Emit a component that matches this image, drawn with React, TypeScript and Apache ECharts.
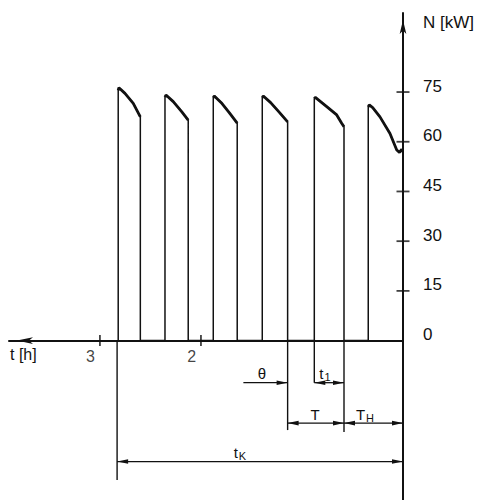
import React, { useEffect, useRef } from "react";
import * as echarts from "echarts";

// Axis ticks (time in hours, running leftwards; power in kW)
const hourTicks = [2, 3];
const powerTicks = [0, 15, 30, 45, 60, 75];
const powerTickMarks = [15, 30, 45, 60, 75];

// Power pulses: top contour of each pulse, [hours before end, kW]
const pulse1 = [[2.819, 75.5], [2.812, 76.3], [2.752, 74.6], [2.67, 71.6], [2.6, 67.5]];
const pulse2 = [[2.356, 73.5], [2.346, 74.1], [2.274, 72.1], [2.191, 69.1], [2.126, 66.5]];
const pulse3 = [[1.878, 73.3], [1.868, 73.8], [1.799, 71.8], [1.72, 68.8], [1.641, 65.6]];
const pulse4 = [[1.393, 73.3], [1.383, 73.8], [1.31, 71.8], [1.228, 69.0], [1.142, 66.0]];
const pulse5 = [[0.878, 73.0], [0.868, 73.4], [0.755, 70.6], [0.656, 68.1], [0.607, 65.6], [0.584, 64.5]];
const pulse6 = [[0.344, 70.5], [0.334, 71.1], [0.3, 70.3], [0.228, 67.5], [0.129, 62.5], [0.062, 57.5], [0.035, 56.8], [0.013, 57.7], [0, 57.0]];
const pulses = [pulse1, pulse2, pulse3, pulse4, pulse5, pulse6];

// Dimension lines (hours / kW levels below the axis)
const dimTexts = ["θ", "{a|t}{s|1}", "T", "{a|T}{s|H}", "{a|t}{s|K}"];
const dimFrom = [1.58, 0.878, 1.142, 0.584, 2.83];
const dimTo = [1.142, 0.584, 0.584, 0, 0];
const dimLevel = [-12.7, -12.7, -24.9, -24.9, -36.5];
const dimLabelAt = [1.396, 0.772, 0.871, 0.376, 1.614];
const dimBothEnds = [false, true, true, true, true];

// Extension lines below the time axis
const extensionAt = [2.83, 1.142, 0.878, 0.584];
const extensionEnd = [-42.1, -27.0, -12.7, -27.6];

const INK = "#111";
const FONT = "'Liberation Sans', Arial, sans-serif";

export default function App() {
  const ref = useRef<HTMLDivElement>(null);

  useEffect(() => {
    if (!ref.current) return;
    const chart = echarts.init(ref.current, undefined, { renderer: "svg" });

    const outline = pulses.flatMap((p) => [
      [p[0][0], 0],
      ...p,
      [p[p.length - 1][0], 0],
    ]);

    const topSeries = pulses.map((p) => ({
      type: "line",
      data: p,
      showSymbol: false,
      symbol: "none",
      lineStyle: { color: INK, width: 2.8 },
      silent: true,
      z: 3,
    }));

    const rich = {
      a: { fontSize: 15, fontFamily: FONT, fill: INK, color: INK },
      s: { fontSize: 11, fontFamily: FONT, fill: INK, color: INK, padding: [7, 0, 0, 1] },
    };

    const option = {
      animation: false,
      backgroundColor: "#fff",
      grid: { left: 9, right: 79, top: 13, bottom: 0, containLabel: false, outerBoundsMode: "none" },
      xAxis: {
        type: "value",
        inverse: true,
        min: 0,
        max: 3.9,
        axisLine: {
          show: true,
          onZero: true,
          symbol: ["arrow", "none"],
          symbolSize: [5, 16],
          symbolOffset: [8, 0],
          lineStyle: { color: INK, width: 2 },
        },
        axisTick: { show: false },
        splitLine: { show: false },
        axisLabel: { show: false },
        name: "t [h]",
        nameLocation: "end",
        nameGap: -1,
        nameTextStyle: {
          align: "left",
          verticalAlign: "top",
          padding: [6, 0, 0, 0],
          fontSize: 16,
          fontFamily: FONT,
          color: INK,
        },
      },
      yAxis: {
        type: "value",
        position: "right",
        min: -48.1,
        max: 98.85,
        axisLine: {
          show: true,
          onZero: true,
          symbol: ["none", "arrow"],
          symbolSize: [5, 14],
          symbolOffset: [0, -7],
          lineStyle: { color: INK, width: 2 },
        },
        axisTick: { show: false },
        splitLine: { show: false },
        axisLabel: {
          customValues: powerTicks,
          margin: 20,
          fontSize: 17,
          fontFamily: FONT,
          color: INK,
          verticalAlign: "bottom",
          lineHeight: 12,
        },
        name: "N [kW]",
        nameLocation: "end",
        nameGap: -9,
        nameTextStyle: {
          align: "left",
          verticalAlign: "middle",
          padding: [0, 0, 0, 20],
          fontSize: 17,
          fontFamily: FONT,
          color: INK,
        },
      },
      series: [
        {
          type: "line",
          data: outline,
          showSymbol: false,
          symbol: "none",
          lineStyle: { color: INK, width: 1.5 },
          silent: true,
          z: 2,
        },
        ...topSeries,
        {
          type: "scatter",
          data: powerTickMarks.map((v) => [0, v]),
          symbol: "rect",
          symbolSize: [13, 1.8],
          itemStyle: { color: INK },
          clip: false,
          silent: true,
          z: 4,
        },
        {
          type: "scatter",
          data: hourTicks.map((h) => [h, 0]),
          symbol: "rect",
          symbolSize: [1.8, 11],
          itemStyle: { color: INK },
          clip: false,
          silent: true,
          z: 4,
          label: {
            show: true,
            formatter: (p: any) => String(p.value[0]),
            position: [-4, 13],
            align: "right",
            verticalAlign: "top",
            fontSize: 16,
            fontFamily: FONT,
            color: INK,
          },
        },
        {
          type: "custom",
          data: extensionAt.map((x, i) => [x, extensionEnd[i]]),
          clip: false,
          silent: true,
          renderItem: (_params: any, api: any) => {
            const x = api.value(0);
            const a = api.coord([x, 0]);
            const b = api.coord([x, api.value(1)]);
            return {
              type: "line",
              shape: { x1: a[0], y1: a[1], x2: b[0], y2: b[1] },
              style: { stroke: INK, lineWidth: 1.4 },
            };
          },
        },
        {
          type: "custom",
          data: dimFrom.map((f, i) => [f, dimTo[i], dimLevel[i], dimLabelAt[i], i]),
          clip: false,
          silent: true,
          renderItem: (_params: any, api: any) => {
            const k = api.value(4);
            const level = api.value(2);
            const a = api.coord([api.value(0), level]);
            const b = api.coord([api.value(1), level]);
            const head = (tip: number[], dir: number) => ({
              type: "polygon",
              shape: {
                points: [
                  [tip[0], tip[1]],
                  [tip[0] - dir * 11, tip[1] - 2.3],
                  [tip[0] - dir * 11, tip[1] + 2.3],
                ],
              },
              style: { fill: INK },
            });
            const children: any[] = [
              {
                type: "line",
                shape: { x1: a[0], y1: a[1], x2: b[0], y2: b[1] },
                style: { stroke: INK, lineWidth: 1.3 },
              },
              head(b, 1),
            ];
            if (dimBothEnds[k]) children.push(head(a, -1));
            const c = api.coord([api.value(3), level]);
            children.push({
              type: "text",
              x: c[0],
              y: c[1] - 9,
              style: {
                text: dimTexts[k],
                rich,
                align: "center",
                verticalAlign: "middle",
                fontSize: 15,
                fontFamily: FONT,
                fill: INK,
              },
            });
            return { type: "group", children };
          },
        },
      ],
    };

    chart.setOption(option as any);
    return () => chart.dispose();
  }, []);

  return (
    <div
      ref={ref}
      style={{ position: "absolute", left: 0, top: 0, width: 482, height: 500, background: "#fff" }}
    />
  );
}
